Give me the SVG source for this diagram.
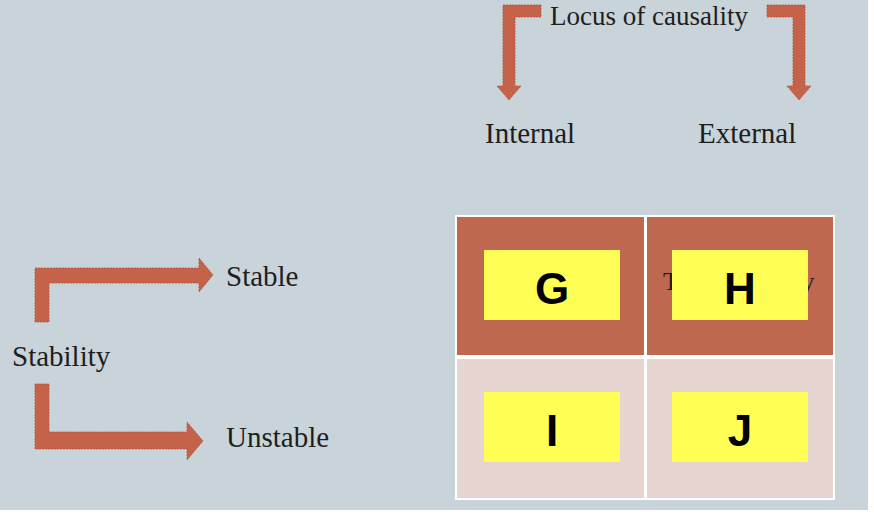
<svg xmlns="http://www.w3.org/2000/svg" width="874" height="514" viewBox="0 0 874 514">
<style>
.t{font-family:"Liberation Serif","DejaVu Serif",serif;font-size:29px;fill:#1e1e1e}
.a{fill:#c4634a;stroke:#b0563f;stroke-width:0.8;stroke-dasharray:2 1}
.y{fill:#ffff55}
.l{font-family:"Liberation Sans",Arial,sans-serif;font-weight:bold;font-size:44px;fill:#000;text-anchor:middle}
</style>
<rect x="0" y="0" width="868" height="510" fill="#c9d3da"/>
<g id="connectors">
<path class="a" d="M541 5 V17 H515 V86 H521 L509 100 L497 86 H503 V5 Z"/>
<path class="a" d="M767 5 V17 H793 V86 H787 L799 100 L811 86 H805 V5 Z"/>
<path class="a" d="M35 322 V268 H199 V258 L213 275 L199 292 V283 H49 V322 Z"/>
<path class="a" d="M35 384 V449 H187 V460 L203 441 L187 422 V432 H49 V384 Z"/>
</g>
<g id="labels">
<text class="t" x="550" y="25" style="font-size:27px">Locus of causality</text>
<text class="t" x="485" y="143">Internal</text>
<text class="t" x="698" y="143">External</text>
<text class="t" x="226" y="286">Stable</text>
<text class="t" x="12" y="366">Stability</text>
<text class="t" x="226" y="447">Unstable</text>
</g>
<g id="table">
<rect x="455" y="215" width="380" height="285" fill="#fff"/>
<rect x="457" y="217" width="187" height="138" fill="#c0684f"/>
<rect x="647" y="217" width="186" height="138" fill="#c0684f"/>
<rect x="457" y="359" width="187" height="139" fill="#e7d5d1"/>
<rect x="647" y="359" width="186" height="139" fill="#e7d5d1"/>
<text class="t" x="663" y="290" style="font-size:26px">Task difficulty</text>
</g>
<g id="G"><rect class="y" x="484" y="250" width="136" height="70"/><text class="l" x="552" y="304">G</text></g>
<g id="H"><rect class="y" x="672" y="250" width="136" height="70"/><text class="l" x="740" y="304">H</text></g>
<g id="I"><rect class="y" x="484" y="392" width="136" height="70"/><text class="l" x="552" y="446">I</text></g>
<g id="J"><rect class="y" x="672" y="392" width="136" height="70"/><text class="l" x="740" y="446">J</text></g>
</svg>
